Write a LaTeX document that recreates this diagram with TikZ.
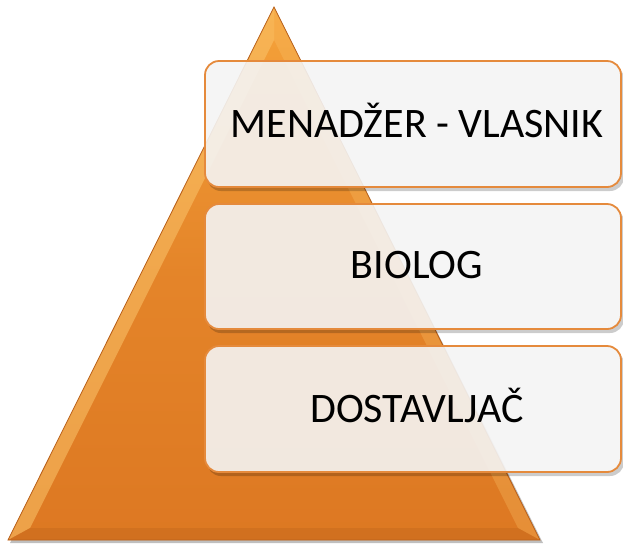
\documentclass[tikz,border=0pt]{standalone}
\usepackage{fontspec}
\setmainfont{Carlito}
\definecolor{orTop}{HTML}{F5A23A}
\definecolor{orBot}{HTML}{DD7822}
\definecolor{orEdge}{HTML}{B8601A}
\definecolor{orLight}{HTML}{FBC46A}
\definecolor{boxLine}{HTML}{E58A3C}
\definecolor{boxFill}{HTML}{F4F4F4}
\tikzset{
  lvlbox/.style={rounded corners=14pt, fill=boxFill, fill opacity=0.9, draw=boxLine, line width=1.8pt, draw opacity=1},
  lvlshadow/.style={rounded corners=14pt, fill=black, opacity=0.2},
  lvltext/.style={font=\fontsize{42}{46}\selectfont, text=black, text opacity=1, anchor=base, inner sep=0pt}
}
\begin{document}
\begin{tikzpicture}[x=1pt,y=-1pt]
\useasboundingbox (0,0) rectangle (623,547);
% pyramid shadow
\fill[black,opacity=0.25] (275,9) -- (10,543) -- (543,543) -- cycle;
% pyramid
\coordinate (apex) at (274,7);
\coordinate (bl) at (8,540);
\coordinate (br) at (540,540);
\shade[top color=orTop, bottom color=orBot, middle color=orBot!70!orTop] (apex) -- (bl) -- (br) -- cycle;
% bevel highlights
\fill[orLight,opacity=0.55] (274,7) -- (8,540) -- (30,528) -- (274,40) -- cycle;
\fill[orLight,opacity=0.3] (274,7) -- (274,40) -- (518,528) -- (540,540) -- cycle;
\fill[orEdge,opacity=0.3] (8,540) -- (540,540) -- (518,528) -- (30,528) -- cycle;
\draw[orEdge,line width=0.8pt] (apex) -- (bl) -- (br) -- cycle;
% box shadows, kept outside the boxes
\begin{scope}[even odd rule, rounded corners=14pt]
  \clip (-5,-5) rectangle (630,555)
    (205,61) rectangle (621,187)
    (205,204) rectangle (621,329)
    (205,346) rectangle (621,472);
  \foreach \t/\b in {61/187, 204/329, 346/472}{
    \fill[lvlshadow] (207,\t+4) rectangle (624,\b+4);
  }
\end{scope}
\draw[lvlbox] (205,61) rectangle (621,187);
\draw[lvlbox] (205,204) rectangle (621,329);
\draw[lvlbox] (205,346) rectangle (621,472);
\node[lvltext] (m) at (417,137) {MENADŽER - VLASNIK};
\node[lvltext] (b) at (417,278) {BIOLOG};
\node[lvltext] (d) at (417,422) {DOSTAVLJAČ};
\end{tikzpicture}
\end{document}
